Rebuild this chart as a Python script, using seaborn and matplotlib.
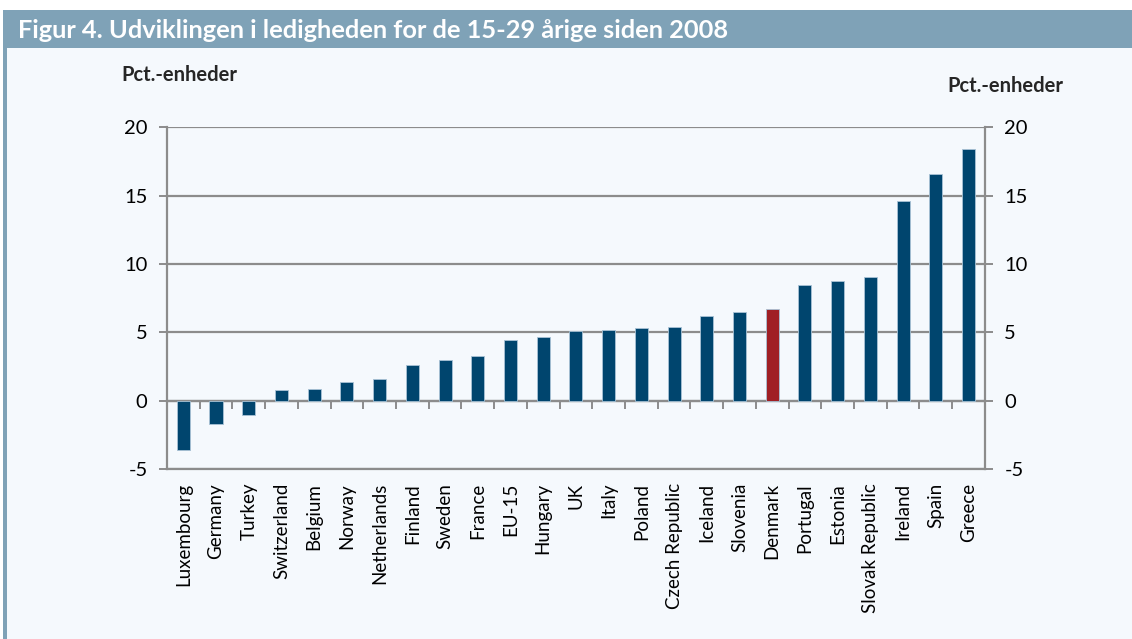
import pandas as pd
import seaborn as sns
import matplotlib.pyplot as plt
from matplotlib.patches import Rectangle

# Data
countries = ["Luxembourg", "Germany", "Turkey", "Switzerland", "Belgium", "Norway",
             "Netherlands", "Finland", "Sweden", "France", "EU-15", "Hungary", "UK",
             "Italy", "Poland", "Czech Republic", "Iceland", "Slovenia", "Denmark",
             "Portugal", "Estonia", "Slovak Republic", "Ireland", "Spain", "Greece"]
change = [-3.6, -1.7, -1.05, 0.8, 0.87, 1.34, 1.58, 2.63, 3.0, 3.28, 4.45, 4.67, 5.09,
          5.2, 5.3, 5.42, 6.2, 6.5, 6.7, 8.45, 8.76, 9.03, 14.6, 16.57, 18.4]
highlight = "Denmark"

title = "Figur 4. Udviklingen i ledigheden for de 15-29 årige siden 2008"
unit = "Pct.-enheder"

df = pd.DataFrame({"country": countries, "change": change})

bg = "#f5f9fd"
band = "#7fa2b7"
blue = "#00456e"
red = "#a01f24"
grey = "#8c8c8c"

sns.set_theme(style="white")
plt.rcParams["font.family"] = ["Lato", "DejaVu Sans"]

fig = plt.figure(figsize=(11.32, 6.39), dpi=100)
fig.patch.set_facecolor("white")

# panel background, header band and left border strip
fig.patches.append(Rectangle((0.003, 0), 0.997, 0.985, transform=fig.transFigure,
                             facecolor=bg, edgecolor="none", zorder=-3))
fig.patches.append(Rectangle((0.003, 0.925), 0.997, 0.06, transform=fig.transFigure,
                             facecolor=band, edgecolor="none", zorder=-2))
fig.patches.append(Rectangle((0.003, 0), 0.0035, 0.985, transform=fig.transFigure,
                             facecolor=band, edgecolor="none", zorder=-2))
fig.text(0.016, 0.953, title, color="white", fontsize=18.3, fontweight="bold",
         va="center", ha="left")
fig.text(0.107, 0.882, unit, fontsize=14.5, fontweight="bold", ha="left", va="center")
fig.text(0.8365, 0.866, unit, fontsize=14.5, fontweight="bold", ha="left", va="center")

ax = fig.add_axes([0.1475, 0.266, 0.7225, 0.535])
ax.set_facecolor(bg)

palette = {c: (red if c == highlight else blue) for c in countries}
sns.barplot(data=df, x="country", y="change", hue="country", palette=palette,
            legend=False, width=0.4, edgecolor="#a9c3d6", linewidth=0.6,
            saturation=1, ax=ax, zorder=3)

ax.set_ylim(-5, 20)
ax.set_xlim(-0.5, len(countries) - 0.5)
ax.set_yticks([-5, 0, 5, 10, 15, 20])
ax.set_yticklabels(["-5", "0", "5", "10", "15", "20"])
ax.set_xlabel("")
ax.set_ylabel("")

ax.yaxis.grid(True, color=grey, linewidth=1.6, zorder=0)
ax.set_axisbelow(True)
for side in ["left", "right", "bottom"]:
    ax.spines[side].set_color(grey)
    ax.spines[side].set_linewidth(1.6)
ax.spines["top"].set_visible(False)

ax.tick_params(axis="y", which="both", left=True, right=True, labelleft=True,
               labelright=True, direction="out", length=6, width=1.4, color=grey,
               labelsize=14.5, pad=8, labelcolor="black")
ax.tick_params(axis="x", length=0, labelsize=13.5, labelrotation=90, pad=10,
               labelcolor="black")

# zero line with category separators
sec = ax.secondary_xaxis(0.2)
sec.set_xticks([i + 0.5 for i in range(len(countries) - 1)])
sec.set_xticklabels([])
sec.tick_params(direction="out", length=6, width=1.4, color=grey)
sec.spines["bottom"].set_color(grey)
sec.spines["bottom"].set_linewidth(1.6)

fig.savefig("out.png", dpi=100, facecolor=fig.get_facecolor())
